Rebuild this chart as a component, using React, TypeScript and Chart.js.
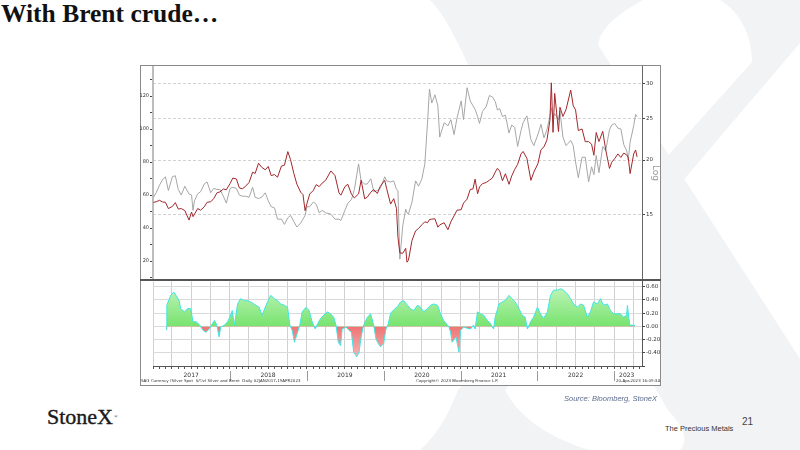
import React, { useEffect, useRef } from "react";
import { Chart, registerables } from "chart.js";

Chart.register(...registerables);

// ---------- data ----------
const dates = [
  "2017-01-03","2017-01-16","2017-02-01","2017-02-15","2017-03-01","2017-03-15","2017-04-03","2017-04-17","2017-05-01","2017-05-15","2017-06-01","2017-06-21","2017-07-03","2017-07-10","2017-07-17","2017-08-01","2017-08-15","2017-09-01","2017-09-15","2017-10-02","2017-10-16","2017-11-01","2017-11-15","2017-12-01","2017-12-15",
  "2018-01-02","2018-01-15","2018-02-01","2018-02-15","2018-03-01","2018-03-15","2018-04-02","2018-04-19","2018-05-01","2018-05-17","2018-06-01","2018-06-18","2018-07-02","2018-07-16","2018-08-01","2018-08-15","2018-09-03","2018-09-17","2018-10-03","2018-10-16","2018-11-01","2018-11-15","2018-12-03","2018-12-14","2018-12-24",
  "2019-01-02","2019-01-15","2019-02-01","2019-02-15","2019-03-01","2019-03-15","2019-04-01","2019-04-25","2019-05-15","2019-06-03","2019-06-12","2019-07-01","2019-07-15","2019-08-01","2019-08-15","2019-09-04","2019-09-16","2019-10-03","2019-10-15","2019-11-01","2019-11-15","2019-12-02","2019-12-16",
  "2020-01-06","2020-01-15","2020-02-03","2020-02-18","2020-03-02","2020-03-09","2020-03-18","2020-04-01","2020-04-15","2020-04-21","2020-04-28","2020-05-15","2020-06-01","2020-06-15","2020-07-01","2020-07-15","2020-07-28","2020-08-06","2020-08-17","2020-09-01","2020-09-15","2020-09-24","2020-10-15","2020-11-02","2020-11-16","2020-12-01","2020-12-15",
  "2021-01-04","2021-01-15","2021-02-01","2021-02-16","2021-03-01","2021-03-11","2021-03-23","2021-04-01","2021-04-15","2021-05-03","2021-05-18","2021-06-01","2021-06-15","2021-06-25","2021-07-06","2021-07-19","2021-08-02","2021-08-19","2021-09-01","2021-09-15","2021-09-29","2021-10-15","2021-10-25","2021-11-12","2021-12-01","2021-12-15",
  "2022-01-03","2022-01-18","2022-02-01","2022-02-15","2022-03-01","2022-03-08","2022-03-16","2022-03-24","2022-04-11","2022-04-18","2022-05-02","2022-05-17","2022-06-08","2022-06-20","2022-07-01","2022-07-14","2022-08-01","2022-08-16","2022-09-01","2022-09-15","2022-09-26","2022-10-07","2022-10-20","2022-11-07","2022-11-21","2022-12-09","2022-12-20",
  "2023-01-03","2023-01-18","2023-02-01","2023-02-15","2023-03-01","2023-03-08","2023-03-17","2023-04-03","2023-04-12","2023-04-19",
];

// Brent crude, USD/bbl (left axis)
const brent = [
  55.5,55.9,56.8,55.8,55.6,51.8,53.1,55.4,51.5,51.8,50.6,44.8,49.7,46.9,48.4,51.8,50.8,52.8,55.6,55.9,57.8,61.4,61.9,63.7,63.2,
  67.0,70.3,69.7,64.3,63.8,65.1,67.6,73.8,73.1,79.3,76.8,75.3,77.3,71.8,72.4,70.8,77.6,78.1,86.3,81.4,72.9,66.6,61.7,60.3,50.5,
  54.9,60.6,62.8,66.3,65.1,67.2,69.0,74.6,71.8,61.3,59.9,65.1,66.5,60.5,58.2,60.7,69.0,57.7,58.7,61.7,63.3,60.9,65.3,
  68.9,64.0,54.5,57.8,51.9,34.4,24.9,24.7,27.7,19.3,20.5,32.5,38.3,39.7,42.0,43.8,43.2,45.1,45.4,45.6,40.5,41.9,43.2,39.0,43.8,47.4,50.8,
  51.1,55.1,57.5,63.4,63.7,69.6,60.8,64.9,66.9,67.6,69.0,70.3,73.9,76.2,74.5,68.6,72.9,66.5,71.6,75.5,78.6,84.9,86.4,82.2,68.9,73.9,
  78.9,87.5,89.2,93.3,105.0,128.0,98.0,121.6,98.5,113.2,107.6,111.9,123.6,114.1,111.6,99.1,100.0,92.3,92.4,90.8,84.1,97.9,92.4,98.6,87.5,76.1,79.9,
  82.1,84.9,82.8,85.4,84.3,82.7,73.0,84.9,87.3,83.1,
];

// Silver spot, USD/oz (right log axis)
const silver = [
  16.4,16.8,17.5,18.0,18.3,17.0,18.3,18.4,17.1,16.6,17.4,16.7,16.6,15.3,16.1,16.7,16.9,17.6,17.8,16.8,17.2,17.1,17.1,16.5,15.9,
  17.2,17.3,17.2,16.6,16.5,16.5,16.4,17.3,16.4,16.3,16.4,16.8,16.1,15.6,15.5,14.6,14.6,14.2,14.7,14.9,14.4,14.0,14.3,14.6,14.9,
  15.6,15.6,16.0,15.8,15.1,15.3,15.1,15.0,14.6,14.6,14.5,15.3,15.9,16.2,17.1,19.6,17.9,17.6,17.6,18.1,16.9,17.0,17.2,
  18.3,17.9,17.8,17.9,17.1,17.0,11.8,14.1,15.4,15.1,15.0,16.0,17.9,17.4,18.1,19.6,24.5,29.2,27.1,28.3,26.7,22.6,24.4,24.0,24.8,22.9,25.0,
  27.4,24.8,29.4,27.4,26.7,26.2,25.2,24.3,25.9,26.6,28.2,28.0,27.3,26.1,26.3,25.2,25.4,23.1,24.1,23.8,21.5,23.4,24.4,25.3,22.3,21.6,
  22.9,24.2,22.5,23.5,25.2,26.4,25.1,25.6,24.8,26.0,22.6,21.6,22.2,21.6,19.8,18.2,20.3,20.3,17.8,19.3,18.5,20.5,18.7,21.5,21.0,23.5,24.1,
  24.3,23.7,23.6,21.7,21.0,20.0,22.0,24.0,25.5,25.2,
];

// rolling correlation (bottom panel), dates as decimal years
const corrDates = [
  2017.17,2017.18,2017.23,2017.27,2017.30,2017.34,2017.36,2017.41,2017.45,2017.49,2017.52,2017.56,2017.60,2017.65,2017.69,2017.73,2017.76,2017.80,2017.83,2017.86,2017.88,2017.93,2017.97,
  2018.00,2018.03,2018.06,2018.10,2018.14,2018.19,2018.23,2018.27,2018.34,2018.38,2018.42,2018.47,2018.53,2018.58,2018.62,2018.66,2018.71,2018.75,2018.78,2018.81,2018.84,2018.88,2018.91,2018.94,2018.99,
  2019.03,2019.07,2019.11,2019.14,2019.18,2019.22,2019.27,2019.31,2019.35,2019.38,2019.41,2019.44,2019.46,2019.51,2019.55,2019.58,2019.61,2019.65,2019.68,2019.71,2019.74,2019.79,2019.83,2019.87,2019.90,2019.93,2019.96,
  2020.00,2020.03,2020.06,2020.09,2020.13,2020.18,2020.22,2020.26,2020.31,2020.35,2020.39,2020.44,2020.48,2020.52,2020.57,2020.61,2020.65,2020.70,2020.74,2020.78,2020.83,2020.85,2020.87,2020.89,2020.94,2020.98,
  2021.00,2021.04,2021.09,2021.13,2021.17,2021.19,2021.22,2021.26,2021.30,2021.35,2021.39,2021.43,2021.45,2021.50,2021.54,2021.58,2021.63,2021.67,2021.71,2021.76,2021.80,2021.84,2021.87,2021.91,2021.95,
  2022.00,2022.04,2022.08,2022.13,2022.17,2022.21,2022.26,2022.30,2022.34,2022.39,2022.43,2022.47,2022.52,2022.56,2022.60,2022.65,2022.69,2022.73,2022.78,2022.82,2022.86,2022.91,2022.95,2022.99,
  2023.04,2023.08,2023.12,2023.16,2023.17,2023.20,2023.23,2023.27,
];
const corr = [
  -0.05,0.32,0.47,0.52,0.47,0.39,0.27,0.22,0.27,0.27,0.07,0.07,0.03,-0.06,-0.09,-0.04,0.02,0.09,0.02,-0.16,-0.01,0.02,0.07,
  0.14,0.24,0.02,0.34,0.42,0.39,0.39,0.37,0.32,0.29,0.17,0.32,0.47,0.42,0.39,0.34,0.32,0.29,0.02,-0.06,-0.24,-0.09,0.02,0.22,0.29,
  0.24,0.07,-0.04,0.04,0.12,0.17,0.22,0.19,0.14,0.02,-0.24,-0.29,-0.04,-0.01,-0.06,-0.09,-0.39,-0.46,-0.39,-0.14,0.02,0.14,0.19,0.02,-0.19,-0.26,-0.31,
  -0.26,-0.04,0.04,0.20,0.25,0.30,0.37,0.39,0.32,0.27,0.24,0.32,0.29,0.22,0.27,0.32,0.34,0.32,0.19,0.09,0.02,-0.01,-0.09,-0.24,-0.16,-0.39,
  -0.06,-0.01,-0.03,-0.04,0.02,-0.04,0.22,0.19,0.17,0.09,0.04,-0.04,0.14,0.34,0.37,0.39,0.47,0.42,0.37,0.27,0.17,0.14,-0.04,0.07,0.14,
  0.29,0.19,0.12,0.22,0.47,0.55,0.55,0.57,0.55,0.49,0.42,0.34,0.29,0.34,0.32,0.14,0.22,0.37,0.34,0.42,0.32,0.34,0.24,0.19,
  0.19,0.19,0.14,0.17,0.32,0.02,0.02,0.01,
];

// axis ticks / labels
const leftTickValues = [10, 20, 30, 40, 50, 60, 70, 80, 90, 100, 110, 120, 130];
const leftLabelledTicks = [20, 40, 60, 80, 100, 120];
const logTickValues = [15, 20, 25, 30];
const corrTickValues = [-0.6, -0.4, -0.2, 0, 0.2, 0.4, 0.6];
const years = [2017, 2018, 2019, 2020, 2021, 2022, 2023];
const yearLabels = ["2017", "2018", "2019", "2020", "2021", "2022", "2023"];

const X_MIN = 2017.0;
const X_MAX = 2023.36;

const AXIS_FONT = "'DejaVu Sans', 'Liberation Sans', sans-serif";

function toYear(s: string): number {
  const [y, m, d] = s.split("-").map(Number);
  const start = Date.UTC(y, 0, 1);
  const end = Date.UTC(y + 1, 0, 1);
  return y + (Date.UTC(y, m - 1, d) - start) / (end - start);
}

// monthly axis ticks (quarters get grid lines; labels at mid-year)
const monthTicks: { value: number; quarter: boolean; label: string }[] = [];
years.forEach((y, yi) => {
  for (let m = 1; m <= 12; m++) {
    const v = toYear(`${y}-${String(m).padStart(2, "0")}-01`);
    if (v > X_MAX) break;
    let label = "";
    if (m === 7) label = yearLabels[yi];
    if (y === 2023 && m === 3) label = yearLabels[yi];
    monthTicks.push({ value: v, quarter: (m - 1) % 3 === 0, label });
  }
});

const yearSeparatorPlugin = {
  id: "yearSeparators",
  afterDraw(chart: any) {
    const xs = chart.scales.x;
    const ctx = chart.ctx;
    ctx.save();
    ctx.strokeStyle = "#9a9a9a";
    ctx.lineWidth = 1;
    years.slice(1).forEach((y) => {
      const px = Math.round(xs.getPixelForValue(toYear(`${y}-01-01`))) + 0.5;
      ctx.beginPath();
      ctx.moveTo(px, xs.top + 5);
      ctx.lineTo(px, xs.top + 15);
      ctx.stroke();
    });
    ctx.restore();
  },
};

export default function App() {
  const topRef = useRef<HTMLCanvasElement>(null);
  const botRef = useRef<HTMLCanvasElement>(null);

  useEffect(() => {
    const pts = (vals: number[]) => dates.map((d, i) => ({ x: toYear(d), y: vals[i] }));

    const top = new Chart(topRef.current!, {
      type: "line",
      data: {
        datasets: [
          {
            data: pts(brent),
            yAxisID: "y",
            borderColor: "#a2262a",
            borderWidth: 1,
            pointRadius: 0,
            tension: 0,
          },
          {
            data: pts(silver),
            yAxisID: "y2",
            borderColor: "#a6a6a6",
            borderWidth: 1,
            pointRadius: 0,
            tension: 0,
          },
        ],
      },
      options: {
        responsive: false,
        animation: false,
        events: [],
        layout: { padding: 0 },
        plugins: { legend: { display: false }, tooltip: { enabled: false } },
        scales: {
          x: { type: "linear", display: false, min: X_MIN, max: X_MAX },
          y: {
            position: "left",
            min: 8.5,
            max: 138.2,
            afterBuildTicks: (s: any) => {
              s.ticks = leftTickValues.map((v) => ({ value: v }));
            },
            afterFit: (s: any) => {
              s.width = 13;
              s.paddingTop = 0;
              s.paddingBottom = 0;
            },
            ticks: {
              autoSkip: false,
              padding: 1,
              color: "#333",
              font: { size: 5, family: AXIS_FONT },
              callback: (v: any) => (leftLabelledTicks.includes(Number(v)) ? String(v) : ""),
            },
            grid: { drawOnChartArea: false, tickLength: 3, tickColor: "#444" },
            border: { color: "#bdbdbd", width: 2 },
          },
          y2: {
            type: "logarithmic",
            position: "right",
            min: 10.56,
            max: 33.0,
            afterBuildTicks: (s: any) => {
              s.ticks = logTickValues.map((v) => ({ value: v }));
            },
            afterFit: (s: any) => {
              s.width = 19;
              s.paddingTop = 0;
              s.paddingBottom = 0;
            },
            ticks: {
              autoSkip: false,
              padding: 1,
              color: "#333",
              font: { size: 5.5, family: AXIS_FONT },
              callback: (v: any) => String(v),
            },
            grid: { color: "#d2d2d2", tickLength: 3, tickColor: "#444" },
            border: { color: "#666", width: 1, dash: [3, 2] },
            title: {
              display: true,
              text: "Log",
              color: "#9a9a9a",
              padding: 0,
              font: { size: 9, family: AXIS_FONT },
            },
          },
        },
      },
    } as any);

    const bot = new Chart(botRef.current!, {
      type: "line",
      data: {
        datasets: [
          {
            data: corrDates.map((t, i) => ({ x: t, y: corr[i] })),
            borderColor: "#3ee6e6",
            borderWidth: 1,
            pointRadius: 0,
            tension: 0,
            fill: { target: { value: 0 }, above: "#8ee98a", below: "#f28c8c" },
          },
        ],
      },
      options: {
        responsive: false,
        animation: false,
        events: [],
        layout: { padding: { left: 13, top: 0, right: 0, bottom: 0 } },
        plugins: { legend: { display: false }, tooltip: { enabled: false } },
        scales: {
          x: {
            type: "linear",
            min: X_MIN,
            max: X_MAX,
            afterBuildTicks: (s: any) => {
              s.ticks = monthTicks.map((t) => ({ value: t.value }));
            },
            afterFit: (s: any) => {
              s.height = 20;
              s.paddingLeft = 0;
              s.paddingRight = 0;
            },
            ticks: {
              autoSkip: false,
              maxRotation: 0,
              minRotation: 0,
              padding: 3,
              color: "#333",
              font: { size: 6, family: AXIS_FONT },
              callback: (_v: any, i: number) => monthTicks[i]?.label ?? "",
            },
            grid: {
              color: (c: any) => (monthTicks[c.index]?.quarter ? "#d0d0d0" : "rgba(0,0,0,0)"),
              tickLength: 3,
              tickColor: "#555",
            },
            border: { color: "#555", width: 1 },
          },
          y: {
            position: "right",
            min: -0.6,
            max: 0.68,
            afterBuildTicks: (s: any) => {
              s.ticks = corrTickValues.map((v) => ({ value: v }));
            },
            afterFit: (s: any) => {
              s.width = 19;
              s.paddingTop = 0;
              s.paddingBottom = 0;
            },
            ticks: {
              autoSkip: false,
              padding: 1,
              color: "#333",
              font: { size: 5.5, family: AXIS_FONT },
              callback: (v: any) => (Number(v) < -0.5 ? "" : Number(v).toFixed(2)),
            },
            grid: { color: "#dadada", tickLength: 3, tickColor: "#444" },
            border: { color: "#555", width: 1 },
          },
        },
      },
      plugins: [yearSeparatorPlugin],
    } as any);

    // gradient fills anchored on the value scale
    const ys = bot.scales.y;
    const g = bot.ctx;
    const yTop = ys.getPixelForValue(0.68);
    const yZero = ys.getPixelForValue(0);
    const yBot = ys.getPixelForValue(-0.6);
    const green = g.createLinearGradient(0, yTop, 0, yZero);
    green.addColorStop(0, "#c9f7c3");
    green.addColorStop(1, "#78e36f");
    const red = g.createLinearGradient(0, yZero, 0, yBot);
    red.addColorStop(0, "#f07373");
    red.addColorStop(1, "#f9c6c6");
    (bot.data.datasets[0] as any).fill = { target: { value: 0 }, above: green, below: red };
    bot.update();

    return () => {
      top.destroy();
      bot.destroy();
    };
  }, []);

  const small = (extra: React.CSSProperties): React.CSSProperties => ({
    position: "absolute",
    fontFamily: "'DejaVu Sans', sans-serif",
    fontSize: 8,
    lineHeight: "8px",
    color: "#333",
    whiteSpace: "nowrap",
    transform: "scale(0.5)",
    ...extra,
  });

  return (
    <div
      style={{
        position: "fixed",
        left: 0,
        top: 0,
        width: 800,
        height: 450,
        background: "#ffffff",
        overflow: "hidden",
        fontFamily: "'Liberation Sans', sans-serif",
      }}
    >
      {/* watermark X */}
      <svg width={800} height={450} style={{ position: "absolute", left: 0, top: 0 }}>
        <path
          d="M430,0 L643,0 C615,15 600,30 598,45 L820,390 L870,450 L680,450 C690,440 682,425 668,410 L472,72 C457,42 446,16 430,0 Z"
          fill="#f2f3f5"
        />
        <path
          d="M720,0 L860,0 L800,43 L505,390 C520,420 555,440 590,450 L420,450 C440,432 450,410 458,390 L752,62 C752,35 740,12 720,0 Z"
          fill="#f2f3f5"
        />
      </svg>

      {/* title */}
      <div
        style={{
          position: "absolute",
          left: 1,
          top: 1,
          fontFamily: "'Liberation Serif', 'DejaVu Serif', serif",
          fontWeight: 700,
          fontSize: 25.5,
          lineHeight: "25.5px",
          color: "#111",
          whiteSpace: "nowrap",
        }}
      >
        With Brent crude…
      </div>

      {/* chart frame */}
      <div
        style={{
          position: "absolute",
          left: 140,
          top: 65,
          width: 521,
          height: 321,
          boxSizing: "border-box",
          border: "1px solid #8a8a8a",
          background: "#ffffff",
        }}
      />
      <canvas
        ref={topRef}
        width={521}
        height={214}
        style={{ position: "absolute", left: 140, top: 66, width: 521, height: 214 }}
      />
      <div style={{ position: "absolute", left: 140, top: 279, width: 521, height: 2, background: "#555" }} />
      <canvas
        ref={botRef}
        width={521}
        height={105}
        style={{ position: "absolute", left: 140, top: 281, width: 521, height: 105 }}
      />

      {/* Bloomberg footer line */}
      <div style={small({ left: 141, top: 379, transformOrigin: "0 0" })}>
        SAG Currency (Silver Spot&nbsp; $/Oz) Silver and Brent&nbsp; Daily 02JAN2017-19APR2023
      </div>
      <div style={small({ left: 416, top: 379, transformOrigin: "0 0" })}>
        Copyright© 2023 Bloomberg Finance L.P.
      </div>
      <div style={small({ right: 140, top: 379, transformOrigin: "100% 0" })}>20-Apr-2023 16:09:34</div>

      {/* source */}
      <div
        style={{
          position: "absolute",
          right: 143,
          top: 394,
          fontSize: 7.5,
          fontStyle: "italic",
          color: "#5b6b8c",
          whiteSpace: "nowrap",
        }}
      >
        Source: Bloomberg, StoneX
      </div>

      {/* logo */}
      <div
        style={{
          position: "absolute",
          left: 47,
          top: 406,
          fontFamily: "'Liberation Serif', 'DejaVu Serif', serif",
          fontSize: 22,
          lineHeight: "22px",
          color: "#1a1a1a",
          whiteSpace: "nowrap",
          WebkitTextStroke: "0.4px #1a1a1a",
        }}
      >
        StoneX
        <span style={{ fontSize: 5, verticalAlign: "top", marginLeft: 1, WebkitTextStroke: "0px" }}>®</span>
      </div>

      {/* footer */}
      <div
        style={{
          position: "absolute",
          left: 665,
          top: 424,
          fontSize: 7.5,
          color: "#333",
          whiteSpace: "nowrap",
        }}
      >
        The Precious Metals
      </div>
      <div
        style={{
          position: "absolute",
          left: 742,
          top: 416,
          fontSize: 10,
          color: "#444",
          whiteSpace: "nowrap",
        }}
      >
        21
      </div>
    </div>
  );
}
